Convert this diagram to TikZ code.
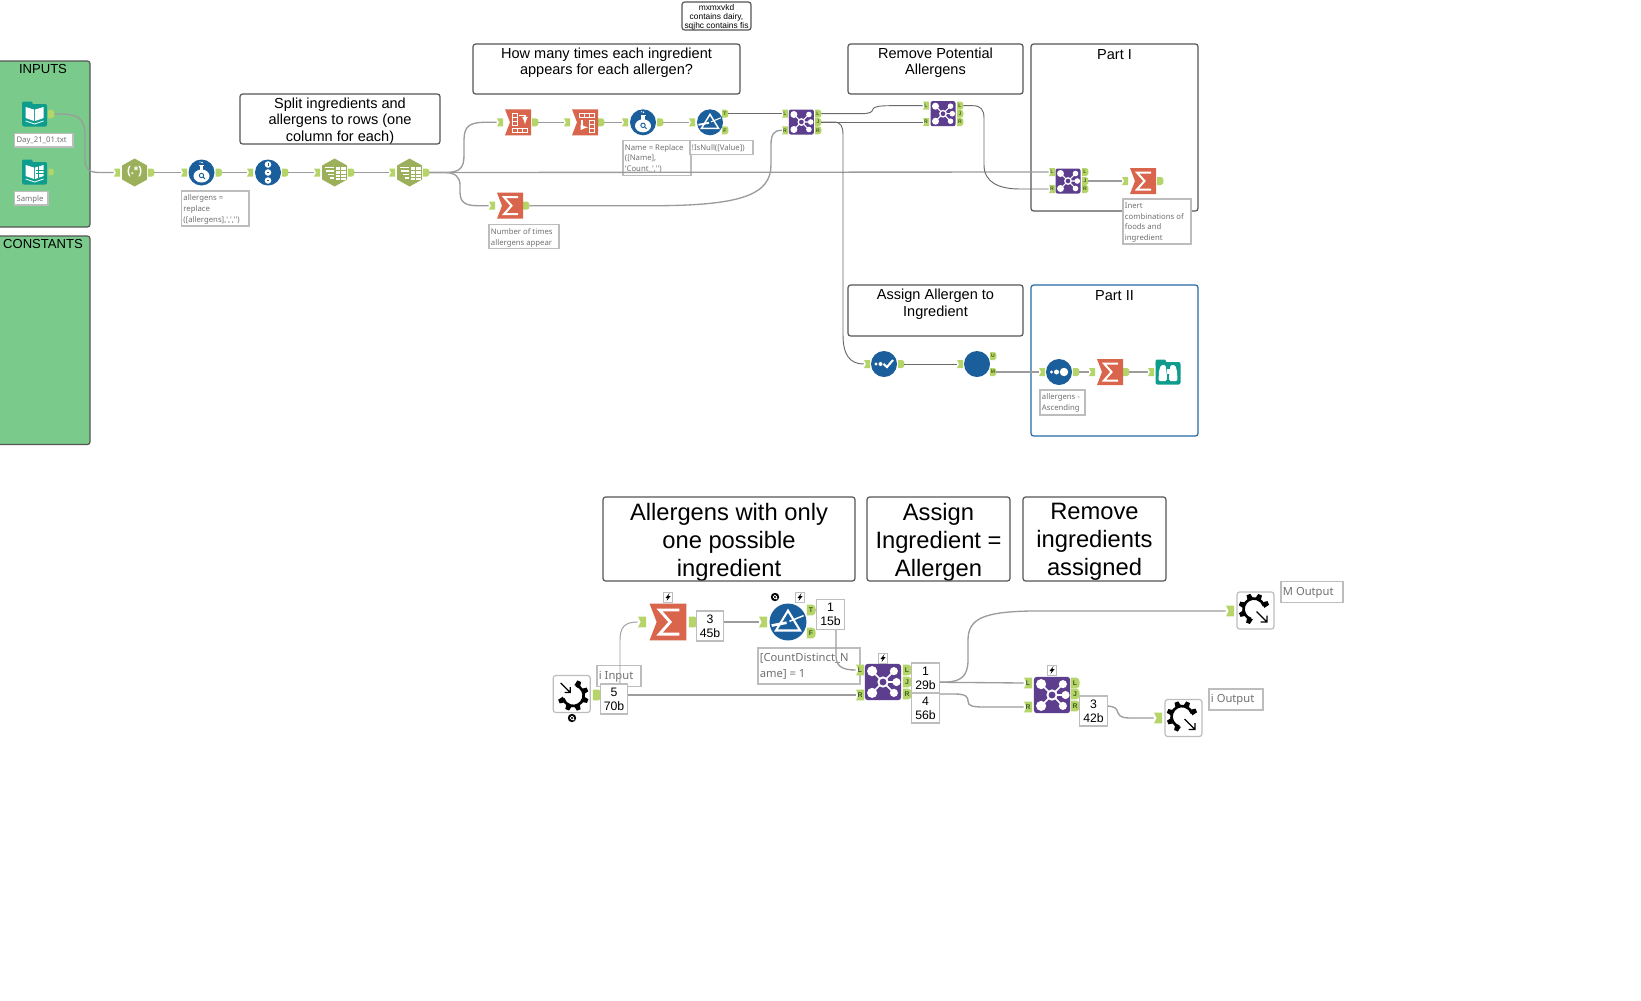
\documentclass[tikz,border=0pt]{standalone}
\usepackage{fontspec}
\setmainfont{Liberation Sans}
\newfontfamily\notefont{Noto Sans}
\definecolor{grpgreen}{HTML}{7ACB8B}
\definecolor{portc}{HTML}{B5D568}
\definecolor{portt}{HTML}{3F5F22}
\definecolor{teal}{HTML}{0E9C8D}
\definecolor{olive}{HTML}{9CB05B}
\definecolor{blueT}{HTML}{1A5E9C}
\definecolor{redT}{HTML}{D9654C}
\definecolor{purpleT}{HTML}{5C3D8E}
\definecolor{wirec}{HTML}{9C9C9C}
\definecolor{wired}{HTML}{6A6A6A}
\definecolor{boxc}{HTML}{555555}
\definecolor{notec}{HTML}{BDBDBD}
\definecolor{notet}{HTML}{707070}
\definecolor{partb}{HTML}{2469A5}
\tikzset{
 wire/.style={draw=wirec,line width=1pt},
 thinwire/.style={draw=wired,line width=0.7pt},
 titlebox/.style={draw=boxc,line width=0.9pt,rounded corners=2pt,inner sep=0pt,fill=white},
 notebox/.style={draw=notec,line width=0.9pt,fill=white,inner sep=0pt},
 inbox/.style={draw=none,fill=none,minimum width=0pt,minimum height=0pt,rounded corners=0pt,inner sep=0pt},
 countbox/.style={draw=notec,line width=0.9pt,fill=white,inner sep=0pt,align=center,font=\fontsize{9.2pt}{10.6pt}\selectfont},
 portnode/.style={inner sep=0pt,text=portt,font=\bfseries},
}
% title box: name x1 y1 x2 y2 font top-offset
\newcommand\tbox[8][]{%
 \pgfmathsetlengthmacro\tw{(#5-#3)*0.75pt}\pgfmathsetlengthmacro\th{(#6-#4)*0.75pt}%
 \node[titlebox,minimum width=\tw,minimum height=\th,#1,
   path picture={\node[inbox,anchor=north,align=center,text=black,font=#7,yshift=-#8*0.75pt] at (path picture bounding box.north) {\tboxtext};}]
   (#2) at ({(#3+#5)/2},{(#4+#6)/2}) {};}
\def\ny{-2.4pt}
\newcommand\note[7][\fontsize{5.8pt}{8.1pt}\selectfont]{%
 \pgfmathsetlengthmacro\tw{(#5-#3)*0.75pt}\pgfmathsetlengthmacro\th{(#6-#4)*0.75pt}%
 \node[notebox,minimum width=\tw,minimum height=\th,
   path picture={\node[inbox,anchor=north west,align=left,text=notet,font=\notefont #1,xshift=1pt,yshift=\ny] at (path picture bounding box.north west) {#7};}]
   (#2) at ({(#3+#5)/2},{(#4+#6)/2}) {};}
\newcommand\pin[5][1]{%
 \begin{scope}[shift={(#3,#4)},scale=#1]
 \fill[portc] (-3,-4)--(3,-4)--(3,4)--(-3,4)--(-1,0)--cycle;
 \pgfmathsetmacro\fs{3.8*#1}
 \node[portnode,minimum width=#1*4.5pt,minimum height=#1*6pt] (#2) at (0,0) {\fontsize{\fs pt}{\fs pt}\selectfont #5};
 \end{scope}}
\newcommand\pout[5][1]{%
 \begin{scope}[shift={(#3,#4)},scale=#1]
 \fill[portc] (-3,-4)--(1,-4) .. controls (3,-4) and (3.5,-2) .. (3.5,0) .. controls (3.5,2) and (3,4) .. (1,4)--(-3,4)--cycle;
 \pgfmathsetmacro\fs{3.8*#1}
 \node[portnode,minimum width=#1*4.5pt,minimum height=#1*6pt] (#2) at (0,0) {\fontsize{\fs pt}{\fs pt}\selectfont #5};
 \end{scope}}
\newcommand\sumtool[3]{%
 \begin{scope}[shift={(#1,#2)},scale=#3]
 \fill[redT] (-13,-13)--(13,-13)--(13,13)--(-13,13)--(-8,0)--cycle;
 \draw[white,line width=#3*1.5pt,miter limit=3] (8,-8.5)--(-6,-8.5)--(1.5,0)--(-6,8.5)--(8,8.5);
 \end{scope}}
\newcommand\jointool[3]{%
 \begin{scope}[shift={(#1,#2)},scale=#3]
 \fill[purpleT,rounded corners=#3*1.5pt] (-12.5,-12.5) rectangle (12.5,12.5);
 \draw[white,line width=#3*0.8pt] (-7.5,-7.5)--(7.5,7.5) (-7.5,7.5)--(7.5,-7.5) (0,0)--(9,0);
 \fill[purpleT] (0,0) circle (3.2);
 \draw[white,line width=#3*1pt] (0,0) circle (3.2);
 \fill[white] (-7.5,-7.5) circle (3.5) (-7.5,7.5) circle (3.5) (7.5,-7.5) circle (2.8) (7.5,7.5) circle (2.8) (9.3,0) circle (2.8);
 \end{scope}}
\newcommand\filtertool[3]{%
 \begin{scope}[shift={(#1,#2)},scale=#3]
 \fill[blueT] (0,0) circle (13);
 \draw[white,line width=#3*1.1pt,line join=miter] (0,-8)--(8.5,6)--(-8.5,6)--cycle;
 \draw[white,line width=#3*1.4pt] (-11.5,2.5)--(-1,0.5);
 \draw[white,line width=#3*0.8pt] (1,-0.5)--(11,-4.5);
 \end{scope}}
\newcommand\hextool[2]{%
 \begin{scope}[shift={(#1,#2)}]
 \fill[olive] (0,-14)--(12.5,-7)--(12.5,7)--(0,14)--(-12.5,7)--(-12.5,-7)--cycle;
 \fill[white] (1,-6) rectangle (11,7);
 \draw[olive,line width=0.4pt] (1,-2)--(11,-2) (1,1.5)--(11,1.5) (1,4.5)--(11,4.5) (5.7,-6)--(5.7,7);
 \draw[white,line width=0.9pt] (-10,-5)--(-1,-5) (-9,-1.5)--(-1,-1.5) (-7,2)--(-1,2) (-5,5.5)--(-1,5.5);
 \end{scope}}
\newcommand\flask[2]{%
 \begin{scope}[shift={(#1,#2)}]
 \fill[blueT] (0,0) circle (13);
 \fill[white] (-1.8,-7) rectangle (1.8,-2);
 \fill[white] (0,3.5) ellipse (8 and 6.5);
 \fill[white] (-2.5,-7.5) rectangle (2.5,-6.5);
 \fill[white] (0.5,-10) circle (0.9) (-1.5,-10.5) circle (0.6);
 \draw[blueT,line width=0.7pt] (0,3) circle (2.2) (1.6,4.6)--(3.6,6.4);
 \end{scope}}
\newcommand\gear[4]{% x y gap-angle offset
 \begin{scope}[shift={(#1,#2)}]
 \fill[white,draw=notec,line width=0.9pt,rounded corners=2pt] (-18.5,-18.5) rectangle (18.5,18.5);
 \begin{scope}[shift={(#4,#4)}]
 \pgfmathsetmacro\sa{#3+62}\pgfmathsetmacro\sb{#3+298}
 \draw[black,line width=2pt] (\sa:10.5) arc[start angle=\sa,end angle=\sb,radius=10.5];
 \foreach \a in {68,112,156,204,248,292}{\pgfmathsetmacro\b{-(#3+\a)}\fill[black,rotate=\b] (10,-3)--(15.5,-2)--(15.5,2)--(10,3)--cycle;}
 \end{scope}
 \end{scope}}
\newcommand\lightning[2]{%
 \begin{scope}[shift={(#1,#2)}]
 \fill[white,draw=notec,line width=0.6pt] (-4.5,-5) rectangle (4.5,5);
 \fill[black] (1.5,-4)--(-2.5,1)--(-0.3,1)--(-1.5,4)--(2.5,-0.8)--(0.3,-0.8)--cycle;
 \end{scope}}
\newcommand\qbadge[2]{%
 \begin{scope}[shift={(#1,#2)}]
 \fill[black] (0,0) circle (4.2);
 \draw[white,line width=0.6pt] (0,0) circle (1.9) (0.8,0.8)--(2.3,2.3);
 \end{scope}}
\begin{document}
\begin{tikzpicture}[x=0.75pt,y=-0.75pt]
\useasboundingbox (0,0) rectangle (1641,1000);
\fill[white] (0,0) rectangle (1641,1000);
\def\tf{\fontsize{10.9pt}{12.6pt}\selectfont}
\def\gf{\fontsize{9.8pt}{11pt}\selectfont}
\def\bf{\fontsize{17.8pt}{20.9pt}\selectfont}
% groups
\def\tboxtext{INPUTS}\tbox[fill=grpgreen]{gInputs}{-4}{61}{90}{227}{\gf}{2.5}
\def\tboxtext{CONSTANTS}\tbox[fill=grpgreen]{gConst}{-4}{236}{90}{444.5}{\gf}{3}
\def\tboxtext{Split ingredients and\\allergens to rows (one\\column for each)}\tbox{tSplit}{240}{94}{440}{144}{\tf}{3}
\def\tboxtext{How many times each ingredient\\appears for each allergen?}\tbox{tHow}{473}{44}{740}{94}{\tf}{3}
\def\tboxtext{mxmxvkd\\contains dairy,\\sqjhc contains fis}\tbox{tMx}{682}{2}{751}{30}{\fontsize{6.3pt}{6.8pt}\selectfont}{1.5}
\def\tboxtext{Remove Potential\\Allergens}\tbox{tRemove}{848}{44}{1023}{94}{\tf}{3}
\def\tboxtext{Assign Allergen to\\Ingredient}\tbox{tAssign}{848}{285}{1023}{336}{\tf}{3.5}
\def\tboxtext{Part I}\tbox{tPartA}{1031}{44}{1198}{211}{\tf}{4.5}
\def\tboxtext{Part II}\tbox[draw=partb]{tPartB}{1031}{285}{1198}{436}{\tf}{4.5}
\def\tboxtext{Allergens with only\\one possible\\ingredient}\tbox{tOnly}{603}{497}{855}{581}{\bf}{5.5}
\def\tboxtext{Assign\\Ingredient =\\Allergen}\tbox{tIng}{867}{497}{1010}{581}{\bf}{5.5}
\def\tboxtext{Remove\\ingredients\\assigned}\tbox{tRem}{1023}{497}{1166}{581}{\bf}{5.5}
% annotations
\note{nDay}{14.6}{133.5}{73}{147}{Day\_21\_01.txt}
\note{nSample}{14.6}{191.5}{48}{205}{Sample}
\note{nForm}{181.5}{191}{249}{226}{allergens =\\replace\\([allergens],',','')}
\note{nTimes}{489}{224.5}{559}{248.5}{Number of times\\allergens appear}
\note{nName}{623}{140.5}{691}{175.7}{Name = Replace\\([Name],\\'Count\_','')}
\note{nNull}{690}{140.5}{753}{154.7}{!IsNull([Value])}
\note{nInert}{1123}{199}{1191}{244}{Inert\\combinations of\\foods and\\ingredient}
\note{nSort}{1040}{390}{1085}{415}{allergens -\\Ascending}
\def\lf{\fontsize{8.4pt}{12pt}\selectfont}
\def\ny{-3.6pt}
\note[\lf]{nInput}{597}{665.5}{641}{686.5}{i Input}
\note[\lf]{nCD}{758}{648}{860}{684}{[CountDistinct\_N\\ame] = 1}
\note[\lf]{nMout}{1281}{581.5}{1343}{602.5}{M Output}
\note[\lf]{nIout}{1209}{689}{1263}{710}{i Output}
% ports
\pout{bookO}{51}{114}{}
\pout[0.8]{bookBO}{51}{172}{}
\pin{regexI}{117}{172.5}{} \pout{regexO}{151}{172.5}{}
\pin{formI}{184}{172.5}{} \pout{formO}{218.6}{172.5}{}
\pin{ridI}{250}{172.5}{} \pout{ridO}{285}{172.5}{}
\pin{hexAI}{317}{172.5}{} \pout{hexAO}{351}{172.5}{}
\pin{hexBI}{392}{172.5}{} \pout{hexBO}{426}{172.5}{}
\pin{transI}{500}{122.3}{} \pout{transO}{535}{122.3}{}
\pin{crossI}{567}{122.3}{} \pout{crossO}{601}{122.3}{}
\pin{formBI}{625}{122.3}{} \pout{formBO}{660}{122.3}{}
\pin{filtI}{692}{122.3}{} \pout{filtT}{725}{113.7}{T} \pout{filtF}{725}{130.3}{F}
\pin{sumAI}{492}{205.7}{} \pout{sumAO}{526}{205.7}{}
\pin{joinAL}{785}{113.7}{L} \pin{joinAR}{785}{130.3}{R}
\pout{joinAOL}{818}{113.7}{L} \pout{joinAOJ}{818}{122}{J} \pout{joinAOR}{818}{130.3}{R}
\pin{joinBL}{926}{105.7}{L} \pin{joinBR}{926}{122}{R}
\pout{joinBOL}{960}{105.7}{L} \pout{joinBOJ}{960}{113.7}{J} \pout{joinBOR}{960}{122}{R}
\pin{joinCL}{1052}{172}{L} \pin{joinCR}{1052}{189}{R}
\pout{joinCOL}{1085}{172}{L} \pout{joinCOJ}{1085}{181}{J} \pout{joinCOR}{1085}{189}{R}
\pin{sumBI}{1125}{181}{} \pout{sumBO}{1160}{181}{}
\pin{multI}{867}{364}{} \pout{multO}{901}{364}{}
\pin{uniqI}{960}{364}{} \pout{uniqU}{993}{356}{U} \pout{uniqM}{993}{372}{M}
\pin{sortI}{1042}{372}{} \pout{sortO}{1076}{372}{}
\pin{sumCI}{1092}{372}{} \pout{sumCO}{1126}{372}{}
\pin{browI}{1151}{372}{}
\pout[1.35]{mInO}{597}{695}{}
\pin[1.35]{bsumI}{642}{622}{} \pout[1.35]{bsumO}{693}{622}{}
\pin[1.35]{bfiltI}{763}{622}{} \pout[1.35]{bfiltT}{811}{610}{T} \pout[1.35]{bfiltF}{811}{633}{F}
\pin[1.35]{bjoinL}{860}{670}{L} \pin[1.35]{bjoinR}{860}{695}{R}
\pout[1.35]{bjoinOL}{907}{670}{L} \pout[1.35]{bjoinOJ}{907}{682}{J} \pout[1.35]{bjoinOR}{907}{694}{R}
\pin[1.35]{cjoinL}{1028}{683}{L} \pin[1.35]{cjoinR}{1028}{707}{R}
\pout[1.35]{cjoinOL}{1075}{683}{L} \pout[1.35]{cjoinOJ}{1075}{694}{J} \pout[1.35]{cjoinOR}{1075}{706}{R}
\pin[1.35]{mOutI}{1230}{611}{}
\pin[1.35]{iOutI}{1158}{718}{}
% wires upper
\draw[wire] (bookO.east) -- ++(6,0) .. controls +(17,0) and (85,118) .. (85,135) -- (85,160) .. controls (85,170) and (90,172.5) .. (100,172.5) -- (regexI.west);
\draw[wire] (regexO.east) -- (formI.west);
\draw[wire] (formO.east) -- (ridI.west);
\draw[wire] (ridO.east) -- (hexAI.west);
\draw[wire] (hexAO.east) -- (hexBI.west);
\draw[wire] (hexBO.east) -- (445,172.5) .. controls (460,172.5) and (464,168) .. (464,155) -- (464,140) .. controls (464,126) and (470,122.3) .. (485,122.3) -- (transI.west);
\draw[wire] (hexBO.east) -- (445,172.5) .. controls (455,172.5) and (460,177) .. (460,185) -- (460,192) .. controls (460,203) and (466,205.7) .. (478,205.7) -- (sumAI.west);
\draw[wire] (hexBO.east) -- (joinCL.west);
\draw[wire] (transO.east) -- (crossI.west);
\draw[wire] (crossO.east) -- (formBI.west);
\draw[wire] (formBO.east) -- (filtI.west);
\draw[thinwire] (filtT.east) -- (joinAL.west);
\draw[wire] (sumAO.east) -- (660,205.7) .. controls (740,205) and (771,195) .. (771,165) -- (771,145) .. controls (771,134) and (774,130.3) .. (joinAR.west);
\draw[thinwire] (joinAOL.east) -- (860,113.7) .. controls (871,113.7) and (872,112) .. (873,109) .. controls (874,106.5) and (880,105.7) .. (890,105.7) -- (joinBL.west);
\draw[thinwire] (joinAOJ.east) -- (joinBR.west);
\draw[thinwire] (joinAOJ.east) -- (833,122) .. controls (841,122) and (843,126) .. (843,135) -- (843,335) .. controls (843,355) and (850,364) .. (multI.west);
\draw[thinwire] (joinBOL.east) -- (973,105.7) .. controls (981,105.7) and (984,110) .. (984,118) -- (984,165) .. controls (984,183) and (1000,189) .. (1020,189) -- (joinCR.west);
\draw[wire] (joinCOJ.east) -- (sumBI.west);
\draw[thinwire] (multO.east) -- (uniqI.west);
\draw[wire] (uniqM.east) -- (sortI.west);
\draw[wire] (sortO.east) -- (sumCI.west);
\draw[wire] (sumCO.east) -- (browI.west);
% wires lower
\draw[wire] (mInO.east) -- (bjoinR.west);
\draw[thinwire,draw=wirec] (mInO.east) -- (610,695) .. controls (618,695) and (620,690) .. (620,680) -- (620,640) .. controls (620,627) and (625,622) .. (bsumI.west);
\draw[wire] (bsumO.east) -- (bfiltI.west);
\draw[wire] (bfiltT.east) -- (825,610) .. controls (834,610) and (836,613) .. (836,620) -- (836,656) .. controls (836,666) and (842,670) .. (bjoinL.west);
\draw[wire] (bjoinOJ.east) -- (cjoinL.west);
\draw[wire] (bjoinOJ.east) -- (945,682) .. controls (962,682) and (968,675) .. (968,660) -- (968,640) .. controls (968,618) and (985,612) .. (1030,611) -- (mOutI.west);
\draw[wire] (bjoinOR.east) -- (955,694) .. controls (966,694) and (968,697) .. (968,701) .. controls (968,706) and (972,707) .. (985,707) -- (cjoinR.west);
\draw[wire] (cjoinOR.east) -- (1105,706) .. controls (1116,706) and (1117,709) .. (1118,713) .. controls (1120,718) and (1125,718) .. (1135,718) -- (iOutI.west);
% tools: inputs
\begin{scope}[shift={(34.6,114)}]
 \fill[teal,rounded corners=1.5pt] (-12.5,-10) rectangle (12.5,12.5);
 \fill[teal,rounded corners=1pt] (-12.5,-12.5) rectangle (-2,-6);
 \fill[white] (-9,-7)--(-0.6,-4.5)--(-0.6,7)--(-9,4)--cycle (9,-7)--(0.6,-4.5)--(0.6,7)--(9,4)--cycle;
 \draw[white,line width=0.6pt] (-9,7)--(0,10)--(9,7);
\end{scope}
\begin{scope}[shift={(34.6,172)}]
 \fill[teal,rounded corners=1.5pt] (-12.5,-10) rectangle (12.5,12.5);
 \fill[teal,rounded corners=1pt] (-12.5,-12.5) rectangle (-2,-6);
 \fill[white] (-9,-7)--(-0.6,-4.5)--(-0.6,7)--(-9,4)--cycle (9,-7)--(0.6,-4.5)--(0.6,7)--(9,4)--cycle;
 \draw[teal,line width=0.7pt] (4,-6)--(4,6) (1,-2)--(9,-2) (1,1)--(9,1);
 \draw[white,line width=0.6pt] (-9,7)--(0,10)--(9,7);
\end{scope}
% regex
\begin{scope}[shift={(134.6,172.5)}]
 \fill[olive] (0,-14)--(12.5,-7)--(12.5,7)--(0,14)--(-12.5,7)--(-12.5,-7)--cycle;
 \node[text=white,font=\bfseries\fontsize{8.5pt}{9pt}\selectfont,inner sep=0pt] (regexLabel) at (0,-0.5) {(.*)};
\end{scope}
\flask{201.5}{172.5}
% record id
\begin{scope}[shift={(268,172.5)}]
 \fill[blueT] (0,0) circle (13);
 \fill[white] (0,-8) circle (3.3) (0,0) circle (3.3) (0,8) circle (3.3);
 \draw[blueT,line width=0.5pt] (0,-9.5)--(0,-6.5) (-1,0)--(1,0) (-1,8)--(1,8);
\end{scope}
\hextool{334.6}{172.5}
\hextool{409.6}{172.5}
% transpose
\begin{scope}[shift={(518,122.3)}]
 \fill[redT] (-13,-13)--(13,-13)--(13,13)--(-13,13)--(-8,0)--cycle;
 \draw[white,line width=0.7pt] (-6,-9) rectangle (-0.5,3) (-6,-5)--(-0.5,-5) (-6,-1)--(-0.5,-1);
 \draw[white,line width=0.9pt,-latex] (1,-7)--(7,-7)--(7,2);
 \draw[white,line width=0.7pt] (-6,6) rectangle (9,10) (-1,6)--(-1,10) (4,6)--(4,10);
\end{scope}
% cross tab
\begin{scope}[shift={(585,122.3)}]
 \fill[redT] (-13,-13)--(13,-13)--(13,13)--(-13,13)--(-8,0)--cycle;
 \draw[white,line width=0.7pt] (-6,-9) rectangle (9,-5) (-1,-9)--(-1,-5) (4,-9)--(4,-5);
 \draw[white,line width=0.9pt,-latex] (-3,-2)--(-3,5)--(3,5);
 \draw[white,line width=0.7pt] (4,-2) rectangle (9.5,10) (4,2)--(9.5,2) (4,6)--(9.5,6);
\end{scope}
\flask{643}{122.3}
\filtertool{710}{122.3}{1}
\sumtool{510}{205.7}{1}
\jointool{801.4}{122}{1}
\jointool{943}{113.7}{1}
\jointool{1068}{181}{1}
\sumtool{1143}{181}{1}
% multi-row
\begin{scope}[shift={(884,364)}]
 \fill[blueT] (0,0) circle (13);
 \fill[white] (-8,0) circle (1.7) (-3.5,0) circle (2);
 \draw[white,line width=1.6pt] (-0.5,0)--(3,3)--(9,-4);
\end{scope}
\fill[blueT] (977,364) circle (13);
\begin{scope}[shift={(1059,372)}]
 \fill[blueT] (0,0) circle (13);
 \fill[white] (-7.5,0) circle (1.6) (-2.5,0) circle (2.5) (5,0) circle (4.2);
\end{scope}
\sumtool{1110}{372}{1}
% browse
\begin{scope}[shift={(1168,372)}]
 \fill[teal,rounded corners=1.5pt] (-12.5,-10) rectangle (12.5,12.5);
 \fill[teal,rounded corners=1pt] (-12.5,-12.5) rectangle (-2,-6);
 \fill[white,rounded corners=1pt] (-9,-1)--(-7,-7)--(-2.5,-7)--(-1.2,2)--(-1.2,9)--(-9.5,9)--cycle;
 \fill[white,rounded corners=1pt] (9,-1)--(7,-7)--(2.5,-7)--(1.2,2)--(1.2,9)--(9.5,9)--cycle;
 \fill[white] (-1.5,-3) rectangle (1.5,2);
\end{scope}
% lower tools
\gear{571.7}{694}{225}{1.5}
\draw[black,line width=1pt] (560.7,683)--(570.2,692.5) (564.7,692.5)--(570.2,692.5)--(570.2,687);
\qbadge{572}{718}
\sumtool{668}{622}{1.42}
\filtertool{788}{622}{1.42}
\jointool{883}{682}{1.45}
\jointool{1052}{695}{1.45}
\gear{1255.5}{610.5}{45}{-1.5}
\draw[black,line width=1pt] (1256.5,611.5)--(1267,622) (1260.5,622)--(1267,622)--(1267,615.5);
\gear{1183.5}{718}{45}{-1.5}
\draw[black,line width=1pt] (1184.5,719)--(1195,729.5) (1188.5,729.5)--(1195,729.5)--(1195,723);
\lightning{668}{597}
\lightning{800}{597}
\qbadge{775}{597}
\lightning{883}{658}
\lightning{1052}{670}
% counts
\node[countbox,minimum width=20.5pt,minimum height=22.5pt] (cA) at (614,699) {5\\70b};
\node[countbox,minimum width=20.5pt,minimum height=22.5pt] (cB) at (710,626) {3\\45b};
\node[countbox,minimum width=20.5pt,minimum height=22.5pt] (cC) at (830.5,614.5) {1\\15b};
\node[countbox,minimum width=20.5pt,minimum height=22.5pt] (cD) at (925.5,678) {1\\29b};
\node[countbox,minimum width=20.5pt,minimum height=22.5pt] (cE) at (925.5,708) {4\\56b};
\node[countbox,minimum width=20.5pt,minimum height=22.5pt] (cF) at (1093.5,711) {3\\42b};
\end{tikzpicture}
\end{document}
